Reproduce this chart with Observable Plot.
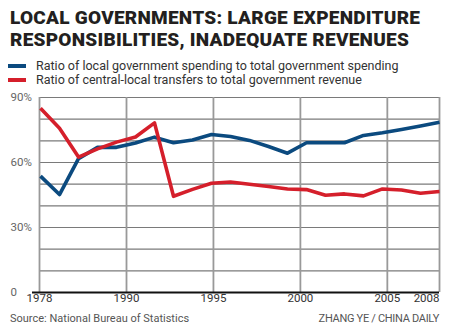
<!DOCTYPE html>
<html>
<head>
<meta charset="utf-8">
<script src="https://cdn.jsdelivr.net/npm/d3@7"></script>
<script src="https://cdn.jsdelivr.net/npm/@observablehq/plot@0.6"></script>
<style>
  html, body { margin: 0; padding: 0; background: #fff; }
  #wrap { position: relative; width: 451px; height: 335px; overflow: hidden; font-family: Roboto, "Liberation Sans", sans-serif; }
  .title { position: absolute; left: 10px; font-family: Roboto, sans-serif; font-weight: 900; font-size: 19px; line-height: 20px; height: 20px; color: #231f20; letter-spacing: 0.25px; white-space: nowrap; }
  .leg { position: absolute; left: 8px; font-family: "Liberation Sans Narrow", Roboto, sans-serif; font-size: 12.5px; color: #333; white-space: nowrap; }
  .leg span.sw { display: inline-block; width: 18px; height: 4px; vertical-align: middle; margin-right: 10px; position: relative; top: -1px; }
  #chart { position: absolute; left: 0; top: 88px; width: 451px; height: 224px; }
  #chart svg { position: absolute; left: 0; top: 0; }
  .src { position: absolute; left: 10px; top: 312px; font-family: "Liberation Sans Narrow", Roboto, sans-serif; font-size: 11px; color: #555; }
  .credit { position: absolute; right: 12px; top: 312px; font-family: "Liberation Sans Narrow", Roboto, sans-serif; font-size: 11px; color: #555; letter-spacing: -0.3px; }
</style>
</head>
<body>
<div id="wrap">
  <div class="title" style="top:7.5px">LOCAL GOVERNMENTS: LARGE EXPENDITURE</div>
  <div class="title" style="top:29.7px">RESPONSIBILITIES, INADEQUATE REVENUES</div>
  <div class="leg" style="top:58px"><span class="sw" style="background:#0b4a7f"></span>Ratio of local government spending to total government spending</div>
  <div class="leg" style="top:72px"><span class="sw" style="background:#d51f2b"></span>Ratio of central-local transfers to total government revenue</div>
  <div id="chart"></div>
  <div class="src">Source: National Bureau of Statistics</div>
  <div class="credit">ZHANG YE / CHINA DAILY</div>
</div>
<script>
// Data years (points are evenly spaced in the original chart)
const years = [1978, 1980, 1985, 1990, 1991, 1992, 1993, 1994, 1995, 1996, 1997, 1998, 1999, 2000, 2001, 2002, 2003, 2004, 2005, 2006, 2007, 2008];
// Ratio of local government spending to total government spending (%)
const localSpending = [53.7, 45.2, 61.8, 67, 67, 69, 71.7, 69.1, 70.4, 72.9, 72, 70.2, 67.4, 64.3, 69.1, 69.1, 69.1, 72.5, 73.7, 75.2, 76.8, 78.6];
// Ratio of central-local transfers to total government revenue (%)
const transfers = [85, 75.8, 62.5, 66.3, 69.4, 71.8, 78.3, 44.4, 47.6, 50.4, 51, 50, 48.9, 47.8, 47.5, 44.9, 45.5, 44.6, 47.8, 47.3, 45.8, 46.6];
// Axis ticks
const xTicks = [1978, 1990, 1995, 2000, 2005, 2008];
const yTicks = [0, 30, 60, 90];
const yTickLabels = ["0", "30%", "60%", "90%"];
const yGrid = [10, 20, 30, 40, 50, 60, 70, 80, 90];

const seriesNames = ["Ratio of local government spending to total government spending", "Ratio of central-local transfers to total government revenue"];
const colors = ["#0b4a7f", "#d51f2b"];

const rows = [];
years.forEach((y, i) => {
  rows.push({year: y, value: localSpending[i], series: seriesNames[0]});
  rows.push({year: y, value: transfers[i], series: seriesNames[1]});
});

const W = 451, H = 224, mt = 9, mb = 20, ml = 39, mr = 12;
const yLab = yTicks.map((v, i) => ({v, label: yTickLabels[i]}));

// Background: grid, axis labels
const bg = Plot.plot({
  width: W, height: H,
  marginTop: mt, marginBottom: mb, marginLeft: ml, marginRight: mr,
  x: {type: "linear", domain: [1978, 1990, 2008], range: [39, 126, 439], axis: null},
  y: {domain: [0, 90], axis: null},
  style: {background: "transparent", overflow: "visible"},
  marks: [
    Plot.ruleY(yGrid, {stroke: "#7a7a7a", strokeWidth: 1.1}),
    Plot.ruleX(xTicks, {y1: 0, y2: 90, stroke: "#999", strokeWidth: 1.8}),
    Plot.ruleY([0], {stroke: "#111", strokeWidth: 1.8, insetLeft: -7}),
    Plot.text(yLab, {y: "v", text: "label", frameAnchor: "left", textAnchor: "start", dx: -29, fontSize: 11.5, fill: "#666", fontFamily: "Roboto, sans-serif"}),
    Plot.text(xTicks.filter(d => d !== 2008), {x: d => d, text: d => String(d), frameAnchor: "bottom", dy: 9.5, fontSize: 11.5, fill: "#333", fontFamily: "Roboto, sans-serif"}),
    Plot.text([2008], {x: d => d, text: d => String(d), frameAnchor: "bottom", dy: 9.5, textAnchor: "end", fontSize: 11.5, fill: "#333", fontFamily: "Roboto, sans-serif"})
  ]
});

// Foreground: lines on evenly spaced data points
const fg = Plot.plot({
  width: W, height: H,
  marginTop: mt, marginBottom: mb, marginLeft: ml, marginRight: mr,
  x: {type: "point", domain: years, range: [39, 440], padding: 0, axis: null},
  y: {domain: [0, 90], axis: null},
  color: {domain: seriesNames, range: colors},
  style: {background: "transparent", overflow: "visible"},
  marks: [
    Plot.line(rows, {x: "year", y: "value", z: "series", stroke: "series", strokeWidth: 3.6, strokeLinejoin: "round", strokeLinecap: "butt"})
  ]
});

const chart = document.getElementById("chart");
chart.appendChild(bg);
chart.appendChild(fg);
</script>
</body>
</html>
